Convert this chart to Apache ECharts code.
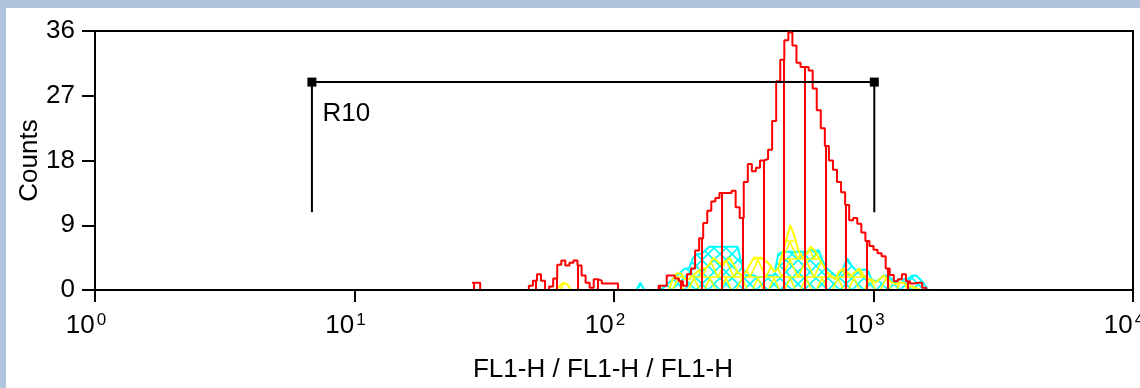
<!DOCTYPE html>
<html>
<head>
<meta charset="utf-8">
<script src="https://cdn.jsdelivr.net/npm/echarts@6/dist/echarts.min.js"></script>
<style>
  html, body { margin: 0; padding: 0; }
  body { width: 1140px; height: 388px; background: #b0c4de; position: relative; overflow: hidden; }
  #hist { position: absolute; left: 6px; top: 8px; width: 1134px; height: 380px; background: #fff; }
</style>
</head>
<body>
<div id="hist"></div>
<script>
// 256 channels over 4 log decades, 64 channels per decade
const xTicks = [0, 64, 128, 192, 256]
const xTickExponents = ['0', '1', '2', '3', '4']
const yTicks = [0, 9, 18, 27, 36]

// counts per channel, first value belongs to the start channel
const redStart = 93
const redCounts = [
  1, 1, 0, 0, 0, 0, 0, 0, 0, 0, 0, 0, 0, 0,
  0.6, 1.3, 2.2, 1.3, 0, 0.5, 1.6, 3.5, 4.1, 3.4, 3.8, 4.1, 3.4, 2, 1, 0.3,
  1.5, 1.3, 0.9, 0.9, 0.9, 0.9,
  0, 0, 0, 0, 0, 0, 0, 0, 0, 0,
  0.6, 0.6, 2, 2, 1.6, 1.2, 0.6, 2.2, 3, 5.5, 7.2, 9.3, 11, 12.3, 12.8, 13.5,
  13.5, 13.5, 13.8, 11.5, 10, 15, 17.5, 16.5, 17, 18, 18.2, 19.5, 23.5, 29, 32, 34.7,
  35.8, 34, 31.6, 31, 31, 30.5, 28, 25, 22.5, 20, 18, 16.7, 15, 13.6, 11.8, 9.7,
  10, 9.2, 8, 6.8, 6.1, 5.6, 5.1, 4.7, 3, 2.1, 1.2, 1.5, 2.2, 1.2, 0.9, 1,
  1, 0.3, 0
]

const cyanStart = 133
const cyanCounts = [
  0, 1, 0, 0, 0, 0, 0, 0.5, 1, 1.5, 2, 2.5, 3, 3, 4.5, 5,
  5, 5.5, 6, 6, 6, 6, 6, 6, 6, 6, 3.5, 2, 2, 2, 1.8, 1.8,
  2, 2, 2, 5, 5.3, 5.3, 5.3, 5.3, 5.3, 5.3, 5.3, 5.5, 5.5, 5.5, 4, 3,
  2.5, 2, 2, 3, 4.4, 3.5, 2.8, 2.8, 2.8, 2.8, 1.5, 1.2, 1.5, 2, 2, 1.5,
  1.2, 1.5, 1.5, 1.5, 2, 2, 1.5, 0.8, 0
]

const yellowStart = 113
const yellowCounts = [
  0, 0.5, 1, 0.8, 0, 0, 0, 0, 0, 0, 0, 0, 0, 0, 0, 0,
  0, 0, 0, 0, 0, 0, 0, 0, 0, 0, 0, 0, 0, 1.5, 2.3, 2.3,
  1.5, 1.5, 2, 2.5, 3, 3, 3.5, 4.5, 4, 3.5, 4, 4.5, 3.5, 2.5, 2, 2.5,
  3.5, 4.5, 4.5, 4.5, 4, 3.5, 2.5, 3, 5, 7, 9, 7.5, 5.5, 4.5, 5, 6,
  5.5, 4.5, 3.5, 2.5, 2, 1.5, 2.5, 3, 2.5, 2, 2.5, 3, 2, 1.5, 1.5, 1,
  1.5, 2, 1.5, 1, 0.8, 1, 1, 0.5, 0.5, 0.3, 0
]

// region marker R10 (channels / counts)
const gateName = 'R10'
const gateChannels = [53.5, 192.2]
const gateLevel = 28.9
const gateDrop = 10.8

const FONT = '"Liberation Sans", Arial, sans-serif'

function toPoints (start, counts, offset) {
  return counts.map(function (v, i) { return [start + i + offset, v] })
}

// fill patterns
function makePattern (w, h, draw) {
  const c = document.createElement('canvas')
  c.width = w
  c.height = h
  draw(c.getContext('2d'))
  return { image: c, repeat: 'repeat' }
}

const redHatch = makePattern(62, 4, function (ctx) {
  ctx.fillStyle = '#ff0000'
  ctx.fillRect(13, 0, 2, 4)
  ctx.fillRect(33, 0, 2, 4)
  ctx.fillRect(54, 0, 2, 4)
})

const cyanHatch = makePattern(12, 12, function (ctx) {
  ctx.strokeStyle = '#00ffff'
  ctx.lineWidth = 1.6
  ctx.beginPath()
  ctx.moveTo(0, 0); ctx.lineTo(12, 12)
  ctx.moveTo(12, 0); ctx.lineTo(0, 12)
  ctx.stroke()
})

const yellowHatch = makePattern(16, 18, function (ctx) {
  ctx.strokeStyle = '#ffff00'
  ctx.lineWidth = 1.6
  ctx.beginPath()
  ctx.moveTo(0, 17); ctx.lineTo(16, 17)
  ctx.moveTo(0, 0); ctx.lineTo(8, 17)
  ctx.moveTo(16, 0); ctx.lineTo(8, 17)
  ctx.stroke()
})

const chart = echarts.init(document.getElementById('hist'))
chart.setOption({
  animation: false,
  grid: {
    left: 89,
    right: 7,
    top: 23,
    bottom: 98,
    containLabel: false,
    outerBoundsMode: 'none',
    show: true,
    borderColor: '#000',
    borderWidth: 2
  },
  xAxis: {
    type: 'value',
    min: xTicks[0],
    max: xTicks[xTicks.length - 1],
    interval: 64,
    z: 10,
    name: 'FL1-H / FL1-H / FL1-H',
    nameLocation: 'middle',
    nameGap: 67,
    nameTextStyle: { color: '#000', fontSize: 26, fontFamily: FONT, padding: [0, 22, 0, 0] },
    axisLine: { lineStyle: { color: '#000', width: 2 } },
    axisTick: { length: 12, lineStyle: { color: '#000', width: 2 } },
    splitLine: { show: false },
    axisLabel: {
      margin: 22,
      formatter: function (v) {
        return '{b|10}{s|' + xTickExponents[xTicks.indexOf(v)] + '}'
      },
      rich: {
        b: { fontSize: 26, fontFamily: FONT, color: '#000', lineHeight: 28 },
        s: { fontSize: 17, fontFamily: FONT, color: '#000', verticalAlign: 'top', lineHeight: 17, padding: [0, 18, 0, 2] }
      }
    }
  },
  yAxis: {
    type: 'value',
    min: yTicks[0],
    max: yTicks[yTicks.length - 1],
    interval: 9,
    z: 10,
    name: 'Counts',
    nameLocation: 'middle',
    nameGap: 52,
    nameMoveOverlap: false,
    nameTextStyle: { color: '#000', fontSize: 26, fontFamily: FONT },
    axisLine: { show: true, lineStyle: { color: '#000', width: 2 } },
    axisTick: { show: true, length: 13, lineStyle: { color: '#000', width: 2 } },
    splitLine: { show: false },
    axisLabel: { margin: 20, color: '#000', fontSize: 26, fontFamily: FONT }
  },
  series: [
    {
      name: 'cyan',
      type: 'line',
      data: toPoints(cyanStart, cyanCounts, 0.5),
      symbol: 'none',
      z: 2,
      lineStyle: { color: '#00ffff', width: 2 },
      areaStyle: { color: cyanHatch, opacity: 1 }
    },
    {
      name: 'yellow',
      type: 'line',
      data: toPoints(yellowStart, yellowCounts, 0.5),
      symbol: 'none',
      z: 3,
      lineStyle: { color: '#ffff00', width: 2 },
      areaStyle: { color: yellowHatch, opacity: 1 }
    },
    {
      name: 'red',
      type: 'line',
      step: 'end',
      data: toPoints(redStart, redCounts, 0),
      symbol: 'none',
      z: 4,
      lineStyle: { color: '#ff0000', width: 2 },
      areaStyle: { color: redHatch, opacity: 1 }
    },
    {
      name: 'gate',
      type: 'line',
      data: [
        [gateChannels[0], gateDrop],
        [gateChannels[0], gateLevel],
        [gateChannels[1], gateLevel],
        [gateChannels[1], gateDrop]
      ],
      symbol: 'none',
      z: 5,
      lineStyle: { color: '#000', width: 2 }
    },
    {
      name: 'gateEnds',
      type: 'scatter',
      symbol: 'rect',
      symbolSize: 9,
      z: 6,
      itemStyle: { color: '#000', opacity: 1 },
      label: { color: '#000' },
      data: [
        {
          value: [gateChannels[0], gateLevel],
          label: {
            show: true,
            formatter: gateName,
            position: 'right',
            offset: [1, 32],
            color: '#000',
            fontSize: 26,
            fontFamily: FONT
          }
        },
        [gateChannels[1], gateLevel]
      ]
    }
  ]
})
</script>
</body>
</html>
